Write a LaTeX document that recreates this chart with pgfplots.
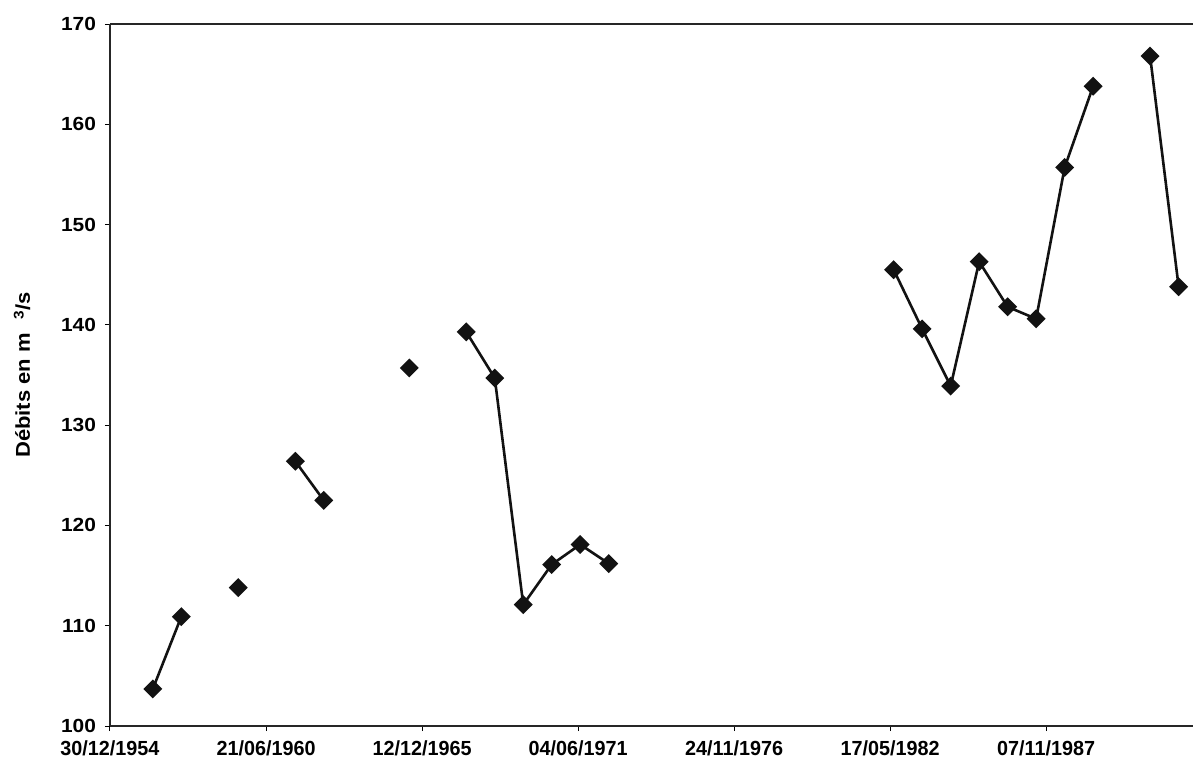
\documentclass[border=0pt]{standalone}
\usepackage{fontspec}
\setmainfont{Liberation Sans}[FakeStretch=1.1]
\newfontfamily\xlabfont{Liberation Sans}[FakeStretch=0.97]
\usepackage{pgfplots}
\usepackage{pgfplotstable}
\pgfplotsset{compat=1.18}
\pgfplotstableread{
x y
20637 103.7
21002 110.9
21367 nan
21732 113.8
22097 nan
22463 126.4
22828 122.5
23193 nan
23924 135.7
24289 nan
24654 139.3
25020 134.7
25385 112.1
25750 116.1
26115 118.1
26481 116.2
26846 nan
30133 145.5
30498 139.6
30864 133.9
31229 146.3
31594 141.8
31959 140.6
32325 155.7
32690 163.8
33055 nan
33420 166.8
33786 143.8
}\debits
\begin{document}
\begin{tikzpicture}
\begin{axis}[
  at={(0,0)}, anchor=south west,
  scale only axis, width=541.5pt, height=351pt,
  xmin=20088, xmax=33970, ymin=100, ymax=170,
  axis x line*=box, axis y line*=left,
  axis line style={line width=0.6pt, black!85},
  xtick={20088,22088,24088,26088,28088,30088,32088},
  xticklabels={30/12/1954,21/06/1960,12/12/1965,04/06/1971,24/11/1976,17/05/1982,07/11/1987},
  ytick={100,110,...,170},
  xtick pos=left, ytick pos=left,
  tick align=outside,
  major tick length=2.5pt,
  tick style={black, line width=0.5pt},
  minor tick num=0,
  unbounded coords=jump,
  /pgf/number format/assume math mode=true,
  yticklabel style={font=\bfseries\fontsize{9.5}{11}\selectfont, xshift=-1pt},
  xticklabel style={font=\xlabfont\bfseries\fontsize{10.2}{12}\selectfont, inner sep=0.5pt, yshift=-4pt},
  ylabel={Débits en m\hspace{0.7em}\raisebox{0.6ex}{\fontsize{7}{8}\selectfont 3}/s},
  every axis y label/.style={at={(axis description cs:0,0.5)}, xshift=-44pt, rotate=90, anchor=center, font=\bfseries\fontsize{10}{12}\selectfont},
  clip=false,
]
\addplot[black!93, line width=1.3pt, mark=square*, mark size=2.7pt,
  mark options={rotate=45, solid, fill=black!93}] table[x=x,y=y]{\debits};
\end{axis}
\pgfresetboundingbox
\path[use as bounding box] (-55pt,-20pt) rectangle (541.5pt,363pt);
\end{tikzpicture}
\end{document}
